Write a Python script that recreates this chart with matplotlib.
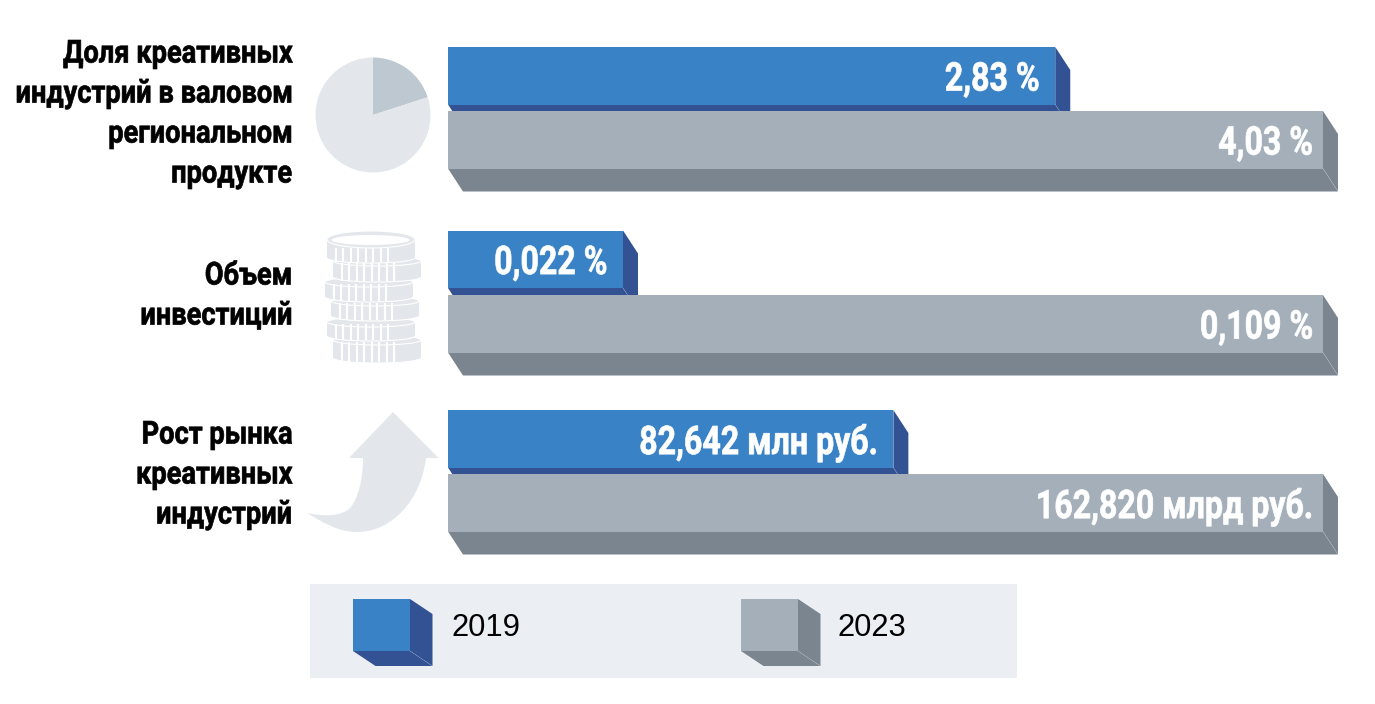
import matplotlib
matplotlib.use("Agg")
import matplotlib.pyplot as plt
from matplotlib.patches import Polygon, Ellipse, Rectangle, PathPatch
from matplotlib.path import Path
from matplotlib.patheffects import AbstractPathEffect
from matplotlib.transforms import Affine2D

# donnees
group_labels = [
    ["Доля креативных", "индустрий в валовом", "региональном", "продукте"],
    ["Объем", "инвестиций"],
    ["Рост рынка", "креативных", "индустрий"],
]
value_labels_2019 = ["2,83 %", "0,022 %", "82,642 млн руб."]
value_labels_2023 = ["4,03 %", "0,109 %", "162,820 млрд руб."]
# longueur des barres, la barre 2023 = 1
shares_2019 = [0.694, 0.200, 0.509]
shares_2023 = [1.0, 1.0, 1.0]
legend_years = ["2019", "2023"]
pie_shares = [20, 80]

BLUE = "#3A82C6"
BLUE_DARK = "#335293"
GREY = "#A4AFBA"
GREY_DARK = "#7A8590"
ICON = "#E3E6EB"
ICON_DARK = "#BEC8D0"

X0 = 448
FULL_W = 875
BAR_H = 57.5
DX = 15
DY = 23
TOPS_2019 = [47, 230.5, 410]
TOPS_2023 = [111, 295, 474]
LABEL_Y = [[53, 93, 133, 173], [275, 315], [434, 474, 514]]
FIG_H = 704


# pas de police etroite installee : on resserre le texte au dessin et on l'epaissit un peu
class Squeeze(AbstractPathEffect):
    def __init__(self, x, y, sx, sy):
        super().__init__()
        self.x = x
        self.y = FIG_H - y
        self.sx = sx
        self.sy = sy

    def draw_path(self, renderer, gc, tpath, affine, rgbFace=None):
        squeeze = Affine2D().translate(-self.x, -self.y).scale(self.sx, self.sy).translate(self.x, self.y)
        gc0 = renderer.new_gc()
        gc0.copy_properties(gc)
        gc0.set_foreground(rgbFace)
        gc0.set_linewidth(0.5)
        renderer.draw_path(gc0, tpath, affine + squeeze, rgbFace)
        gc0.restore()


def narrow_text(x, y, s, size, sx, sy, color):
    ax.text(x, y, s, ha="right", va="center", fontsize=size, fontweight="bold", color=color,
            family="Roboto", zorder=20, path_effects=[Squeeze(x, y, sx, sy)])


fig = plt.figure(figsize=(13.75, 7.04), dpi=100)
ax = fig.add_axes([0, 0, 1, 1])
ax.set_xlim(0, 1375)
ax.set_ylim(704, 0)
ax.axis("off")


def draw_box(left, top, width, height, front, dark, z, dx=DX, dy=DY):
    right = left + width
    bottom = top + height
    ax.add_patch(Polygon([(right, top), (right + dx, top + dy), (right + dx, bottom + dy), (right, bottom)],
                         closed=True, fc=dark, ec="none", zorder=z))
    ax.add_patch(Polygon([(left, bottom), (right, bottom), (right + dx, bottom + dy), (left + dx, bottom + dy)],
                         closed=True, fc=dark, ec="none", zorder=z))
    ax.plot([right, right + dx], [bottom, bottom + dy], color="white", alpha=0.2, lw=0.5, zorder=z)
    ax.barh(top + height / 2, width, height=height, left=left, color=front, linewidth=0, zorder=z)


for i in range(3):
    w19 = shares_2019[i] * FULL_W
    w23 = shares_2023[i] * FULL_W
    draw_box(X0, TOPS_2019[i], w19, BAR_H, BLUE, BLUE_DARK, 3)
    draw_box(X0, TOPS_2023[i], w23, BAR_H, GREY, GREY_DARK, 4)
    narrow_text(X0 + w19 - 15.5, TOPS_2019[i] + BAR_H / 2 + 4, value_labels_2019[i], 25, 0.925, 1.14, "white")
    narrow_text(X0 + w23 - 10, TOPS_2023[i] + BAR_H / 2 + 4, value_labels_2023[i], 25, 0.925, 1.14, "white")
    for line, y in zip(group_labels[i], LABEL_Y[i]):
        narrow_text(292, y + 1, line, 20, 0.98, 1.14, "black")

# camembert
pie_ax = fig.add_axes([315.5 / 1375, 1 - 172.5 / 704, 115 / 1375, 115 / 704])
pie_ax.pie(pie_shares, colors=[ICON_DARK, ICON], startangle=90, counterclock=False, radius=1)
pie_ax.set_xlim(-1, 1)
pie_ax.set_ylim(-1, 1)

# pieces, du bas vers le haut
coins = [(333, 335, 363), (327, 317, 341), (331, 296, 321), (325, 277, 302), (333, 256, 282), (327, 231, 263)]
z = 5
for n, (left, top, bottom) in enumerate(coins):
    w = 88
    top_coin = n == len(coins) - 1
    h = 17 if top_coin else 10
    ax.add_patch(Ellipse((left + w / 2, bottom - 5), w, 10, fc=ICON, ec="white", lw=0.8, zorder=z))
    ax.add_patch(Rectangle((left, top + h / 2), w, bottom - top - h / 2 - 5, fc=ICON, ec="none", zorder=z))
    ax.add_patch(Ellipse((left + w / 2, top + h / 2), w, h, fc=ICON, ec="white", lw=0.8, zorder=z))
    rib_top = top + 17 if top_coin else top + 7
    for k in range(8):
        x = left + 9 + k * 7.5
        ax.plot([x, x], [rib_top, bottom - 1.5], color="white", lw=1.5, solid_capstyle="butt", zorder=z)
    z += 0.1
# dessus de la pile
ax.add_patch(Ellipse((370.5, 240), 78, 10, fc="white", ec="none", zorder=z))

# fleche
arrow_verts = [(393, 412), (438.5, 458), (426, 458),
               (421, 500), (392, 532), (357, 532),
               (338, 532), (322, 522), (307, 513),
               (325, 517), (342, 516), (350, 508),
               (358, 499), (363, 480), (363, 458),
               (349, 458), (393, 412)]
arrow_codes = [Path.MOVETO, Path.LINETO, Path.LINETO,
               Path.CURVE4, Path.CURVE4, Path.CURVE4,
               Path.CURVE4, Path.CURVE4, Path.CURVE4,
               Path.CURVE4, Path.CURVE4, Path.CURVE4,
               Path.CURVE4, Path.CURVE4, Path.CURVE4,
               Path.LINETO, Path.CLOSEPOLY]
ax.add_patch(PathPatch(Path(arrow_verts, arrow_codes), fc=ICON, ec="none"))

# legende
ax.add_patch(Rectangle((310, 584), 707, 94, fc="#EBEEF2", ec="none", zorder=1))
for left, year, front, dark, tx in zip([353, 741], legend_years, [BLUE, GREY], [BLUE_DARK, GREY_DARK], [452, 838]):
    draw_box(left, 599, 57, 52, front, dark, 3, dx=22.5, dy=15)
    ax.text(tx, 628, year, ha="left", va="center", fontsize=22.3, color="black", family="Liberation Sans", zorder=20)

fig.savefig("out.png", dpi=100)
